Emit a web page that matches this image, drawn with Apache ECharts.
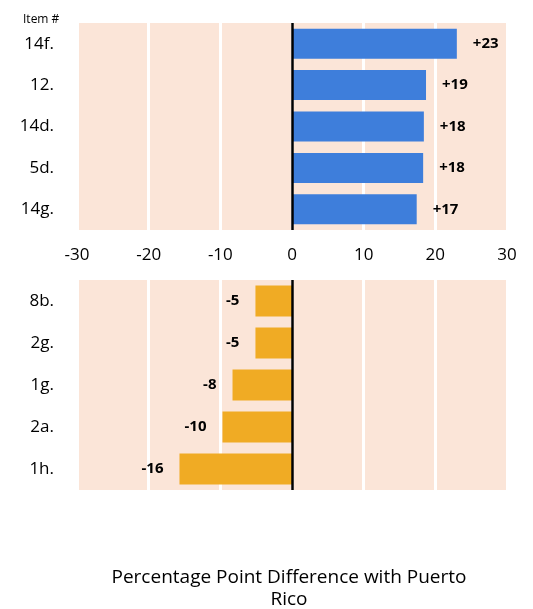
<!DOCTYPE html>
<html>
<head>
<meta charset="utf-8">
<script src="https://cdn.jsdelivr.net/npm/echarts@6/dist/echarts.min.js"></script>
<style>
html,body{margin:0;padding:0;background:#fff;}
#chart{width:533px;height:609px;}
</style>
</head>
<body>
<div id="chart"></div>
<script>
const topCategories = ['14f.', '12.', '14d.', '5d.', '14g.'];
const topValues = [23.0, 18.7, 18.4, 18.3, 17.4];
const bottomCategories = ['8b.', '2g.', '1g.', '2a.', '1h.'];
const bottomValues = [-5.1, -5.1, -8.3, -9.7, -15.7];
const xTicks = [-30, -20, -10, 0, 10, 20, 30];
const titleText = 'Percentage Point Difference with Puerto\nRico';
const itemLabel = 'Item #';

const FONT = '"Open Sans", sans-serif';
const BG = '#FBE5D8';

const chart = echarts.init(document.getElementById('chart'), null, {renderer: 'canvas'});

function xAxisDef(idx, showLabels) {
  return {
    type: 'value', gridIndex: idx,
    min: xTicks[0], max: xTicks[xTicks.length - 1], interval: 10,
    axisLine: {show: false}, axisTick: {show: false},
    axisLabel: {show: showLabels, color: '#000', fontSize: 17, fontFamily: FONT, margin: 17},
    splitLine: {show: true, lineStyle: {color: '#fff', width: 3}}
  };
}
function yAxisDef(idx, cats) {
  return {
    type: 'category', gridIndex: idx, data: cats, inverse: true,
    axisLine: {show: false}, axisTick: {show: false},
    axisLabel: {color: '#000', fontSize: 17, fontFamily: FONT, margin: 23, padding: [3, 0, 0, 0]},
    splitLine: {show: false}
  };
}
const zeroLine = {
  silent: true, symbol: ['none', 'none'], label: {show: false},
  lineStyle: {color: '#000', width: 2.5, type: 'solid'},
  data: [{xAxis: 0}]
};

chart.setOption({
  animation: false,
  backgroundColor: '#fff',
  title: [
    {text: itemLabel, left: 18, top: 9, textStyle: {fontSize: 12, fontWeight: 'normal', color: '#000', fontFamily: FONT}},
    {text: titleText, left: 284, textAlign: 'center', top: 562, textStyle: {fontSize: 19, fontWeight: 'normal', color: '#000', fontFamily: FONT, lineHeight: 22}}
  ],
  grid: [
    {left: 77, top: 23, width: 430, height: 207, show: true, backgroundColor: BG, borderWidth: 0, containLabel: false},
    {left: 77, top: 280, width: 430, height: 210, show: true, backgroundColor: BG, borderWidth: 0, containLabel: false}
  ],
  xAxis: [xAxisDef(0, true), xAxisDef(1, false)],
  yAxis: [yAxisDef(0, topCategories), yAxisDef(1, bottomCategories)],
  series: [
    {
      type: 'bar', xAxisIndex: 0, yAxisIndex: 0, data: topValues, barWidth: 30,
      itemStyle: {color: '#3E7EDB'},
      label: {show: true, position: 'right', distance: 16, color: '#000', fontWeight: 'bold', fontSize: 15, fontFamily: FONT,
        padding: [3, 0, 0, 0], formatter: p => '+' + Math.round(p.value)},
      markLine: zeroLine
    },
    {
      type: 'bar', xAxisIndex: 1, yAxisIndex: 1, data: bottomValues, barWidth: 31,
      itemStyle: {color: '#F0AB24'},
      label: {show: true, position: 'left', distance: 16, color: '#000', fontWeight: 'bold', fontSize: 15, fontFamily: FONT,
        padding: [3, 0, 0, 0], formatter: p => String(Math.round(p.value))},
      markLine: zeroLine
    }
  ]
});
</script>
</body>
</html>
